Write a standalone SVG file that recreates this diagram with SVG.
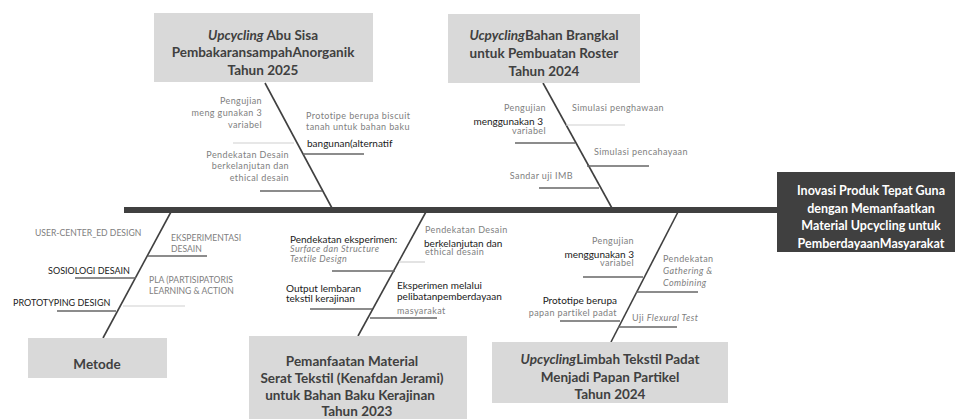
<svg xmlns="http://www.w3.org/2000/svg" width="955" height="419" viewBox="0 0 955 419">
<style>
text{font-family:Lato,"Liberation Sans",sans-serif}
.box{fill:#d9d9d9}
.bt{font-size:13.5px;font-weight:bold;fill:#404040;text-anchor:middle}
.ht{font-size:12.5px;font-weight:bold;fill:#ffffff;text-anchor:middle}
.g{font-size:9px;fill:#808080;letter-spacing:0.4px}
.gu{font-size:8.6px;fill:#808080}
.k{font-size:10px;fill:#1a1a1a}
.ku{font-size:9px;fill:#1a1a1a}
.e{text-anchor:end}
.i{font-style:italic}
.dia{stroke:#404040;stroke-width:1.6;fill:none}
.sub{stroke:#666666;stroke-width:1.5}
.lt{stroke:#d0d0d0;stroke-width:1.2}
</style>
<g id="connectors">
<line x1="124" y1="210" x2="778" y2="210" stroke="#404040" stroke-width="6"/>
<line class="dia" x1="265" y1="83" x2="333" y2="210"/>
<line class="dia" x1="543" y1="83" x2="613" y2="210"/>
<line class="dia" x1="172" y1="210" x2="103" y2="338"/>
<line class="dia" x1="427" y1="210" x2="358" y2="336"/>
<line class="dia" x1="679" y1="210" x2="611" y2="342"/>
<line class="lt" x1="233" y1="143" x2="294" y2="143"/>
<line class="sub" x1="260" y1="191" x2="322" y2="191"/>
<line class="sub" x1="303" y1="154" x2="364" y2="154"/>
<line class="sub" x1="515" y1="143" x2="575" y2="143"/>
<line class="lt" x1="566" y1="125" x2="625" y2="125"/>
<line class="sub" x1="587" y1="166" x2="649" y2="166"/>
<line class="sub" x1="539" y1="188" x2="599" y2="188"/>
<line class="sub" x1="148" y1="256" x2="207" y2="256"/>
<line class="sub" x1="75" y1="278" x2="136" y2="278"/>
<line class="lt" x1="123" y1="306" x2="185" y2="306"/>
<line class="sub" x1="57" y1="311" x2="116" y2="311"/>
<line class="sub" x1="332" y1="271" x2="395" y2="271"/>
<line class="sub" x1="310" y1="309" x2="372" y2="309"/>
<line class="lt" x1="399" y1="262" x2="425" y2="262"/>
<line class="sub" x1="370" y1="318" x2="437" y2="318"/>
<line class="sub" x1="583" y1="277" x2="643" y2="277"/>
<line class="sub" x1="636" y1="292" x2="698" y2="292"/>
<line class="sub" x1="560" y1="321" x2="620" y2="321"/>
<line class="sub" x1="618" y1="327" x2="677" y2="327"/>
</g>
<g id="head">
<rect x="777" y="172" width="178" height="80" fill="#404040"/>
<text class="ht" x="871" y="195">Inovasi Produk Tepat Guna</text>
<text class="ht" x="871" y="213">dengan Memanfaatkan</text>
<text class="ht" x="871" y="230">Material Upcycling untuk</text>
<text class="ht" x="871" y="248">PemberdayaanMasyarakat</text>
</g>
<g id="cat-abu">
<rect class="box" x="154" y="13" width="219" height="69"/>
<text class="bt" x="263" y="40"><tspan class="i">Upcycling</tspan> Abu Sisa</text>
<text class="bt" x="263" y="57">PembakaransampahAnorganik</text>
<text class="bt" x="263" y="75">Tahun 2025</text>
<text class="g e" x="262" y="104">Pengujian</text>
<text class="g e" x="262" y="116">meng gunakan 3</text>
<text class="g e" x="262" y="128">variabel</text>
<text class="g e" x="289" y="158">Pendekatan Desain</text>
<text class="g e" x="289" y="169">berkelanjutan dan</text>
<text class="g e" x="289" y="181">ethical desain</text>
<text class="g" x="306" y="119">Prototipe berupa biscuit</text>
<text class="g" x="306" y="130">tanah untuk bahan baku</text>
<text class="k" x="307" y="147">bangunan(alternatif</text>
</g>
<g id="cat-brangkal">
<rect class="box" x="448" y="14" width="192" height="69"/>
<text class="bt" x="544" y="40"><tspan class="i">Ucpycling</tspan>Bahan Brangkal</text>
<text class="bt" x="544" y="58">untuk Pembuatan Roster</text>
<text class="bt" x="544" y="76">Tahun 2024</text>
<text class="g e" x="546" y="111">Pengujian</text>
<text class="k e" x="543" y="125">menggunakan 3</text>
<text class="g e" x="546" y="134">variabel</text>
<text class="g" x="572" y="111">Simulasi penghawaan</text>
<text class="g" x="594" y="155">Simulasi pencahayaan</text>
<text class="g e" x="573" y="179">Sandar uji IMB</text>
</g>
<g id="cat-metode">
<rect class="box" x="28" y="338" width="139" height="40"/>
<text class="bt" x="97" y="369">Metode</text>
<text class="gu" x="35" y="236">USER-CENTER_ED DESIGN</text>
<text class="gu" x="171" y="241">EKSPERIMENTASI</text>
<text class="gu" x="171" y="252">DESAIN</text>
<text class="ku e" x="130" y="274">SOSIOLOGI DESAIN</text>
<text class="gu" x="149" y="283">PLA (PARTISIPATORIS</text>
<text class="gu" x="149" y="294">LEARNING &amp; ACTION</text>
<text class="ku" x="13" y="306">PROTOTYPING DESIGN</text>
</g>
<g id="cat-serat">
<rect class="box" x="249" y="336" width="218" height="83"/>
<text class="bt" x="352" y="366">Pemanfaatan Material</text>
<text class="bt" x="352" y="383">Serat Tekstil (Kenafdan Jerami)</text>
<text class="bt" x="350" y="400">untuk Bahan Baku Kerajinan</text>
<text class="bt" x="357" y="416">Tahun 2023</text>
<text class="k" x="290" y="243">Pendekatan eksperimen:</text>
<text class="g i" x="290" y="252">Surface dan Structure</text>
<text class="g i" x="290" y="262">Textile Design</text>
<text class="k" x="286" y="292">Output lembaran</text>
<text class="k" x="286" y="302">tekstil kerajinan</text>
<text class="g" x="425" y="233">Pendekatan Desain</text>
<text class="k" x="424" y="247">berkelanjutan dan</text>
<text class="g" x="425" y="255">ethical desain</text>
<text class="k" x="397" y="289">Eksperimen melalui</text>
<text class="k" x="397" y="300">pelibatanpemberdayaan</text>
<text class="g" x="397" y="314">masyarakat</text>
</g>
<g id="cat-limbah">
<rect class="box" x="492" y="342" width="236" height="61"/>
<text class="bt" x="610" y="364"><tspan class="i">Upcycling</tspan>Limbah Tekstil Padat</text>
<text class="bt" x="610" y="382">Menjadi Papan Partikel</text>
<text class="bt" x="610" y="399">Tahun 2024</text>
<text class="g e" x="634" y="244">Pengujian</text>
<text class="k e" x="634" y="258">menggunakan 3</text>
<text class="g e" x="634" y="266">variabel</text>
<text class="g" x="663" y="262">Pendekatan</text>
<text class="g i" x="663" y="274">Gathering &amp;</text>
<text class="g i" x="663" y="286">Combining</text>
<text class="k e" x="617" y="304">Prototipe berupa</text>
<text class="g e" x="617" y="316">papan partikel padat</text>
<text class="g" x="632" y="321">Uji <tspan class="i">Flexural Test</tspan></text>
</g>
</svg>
